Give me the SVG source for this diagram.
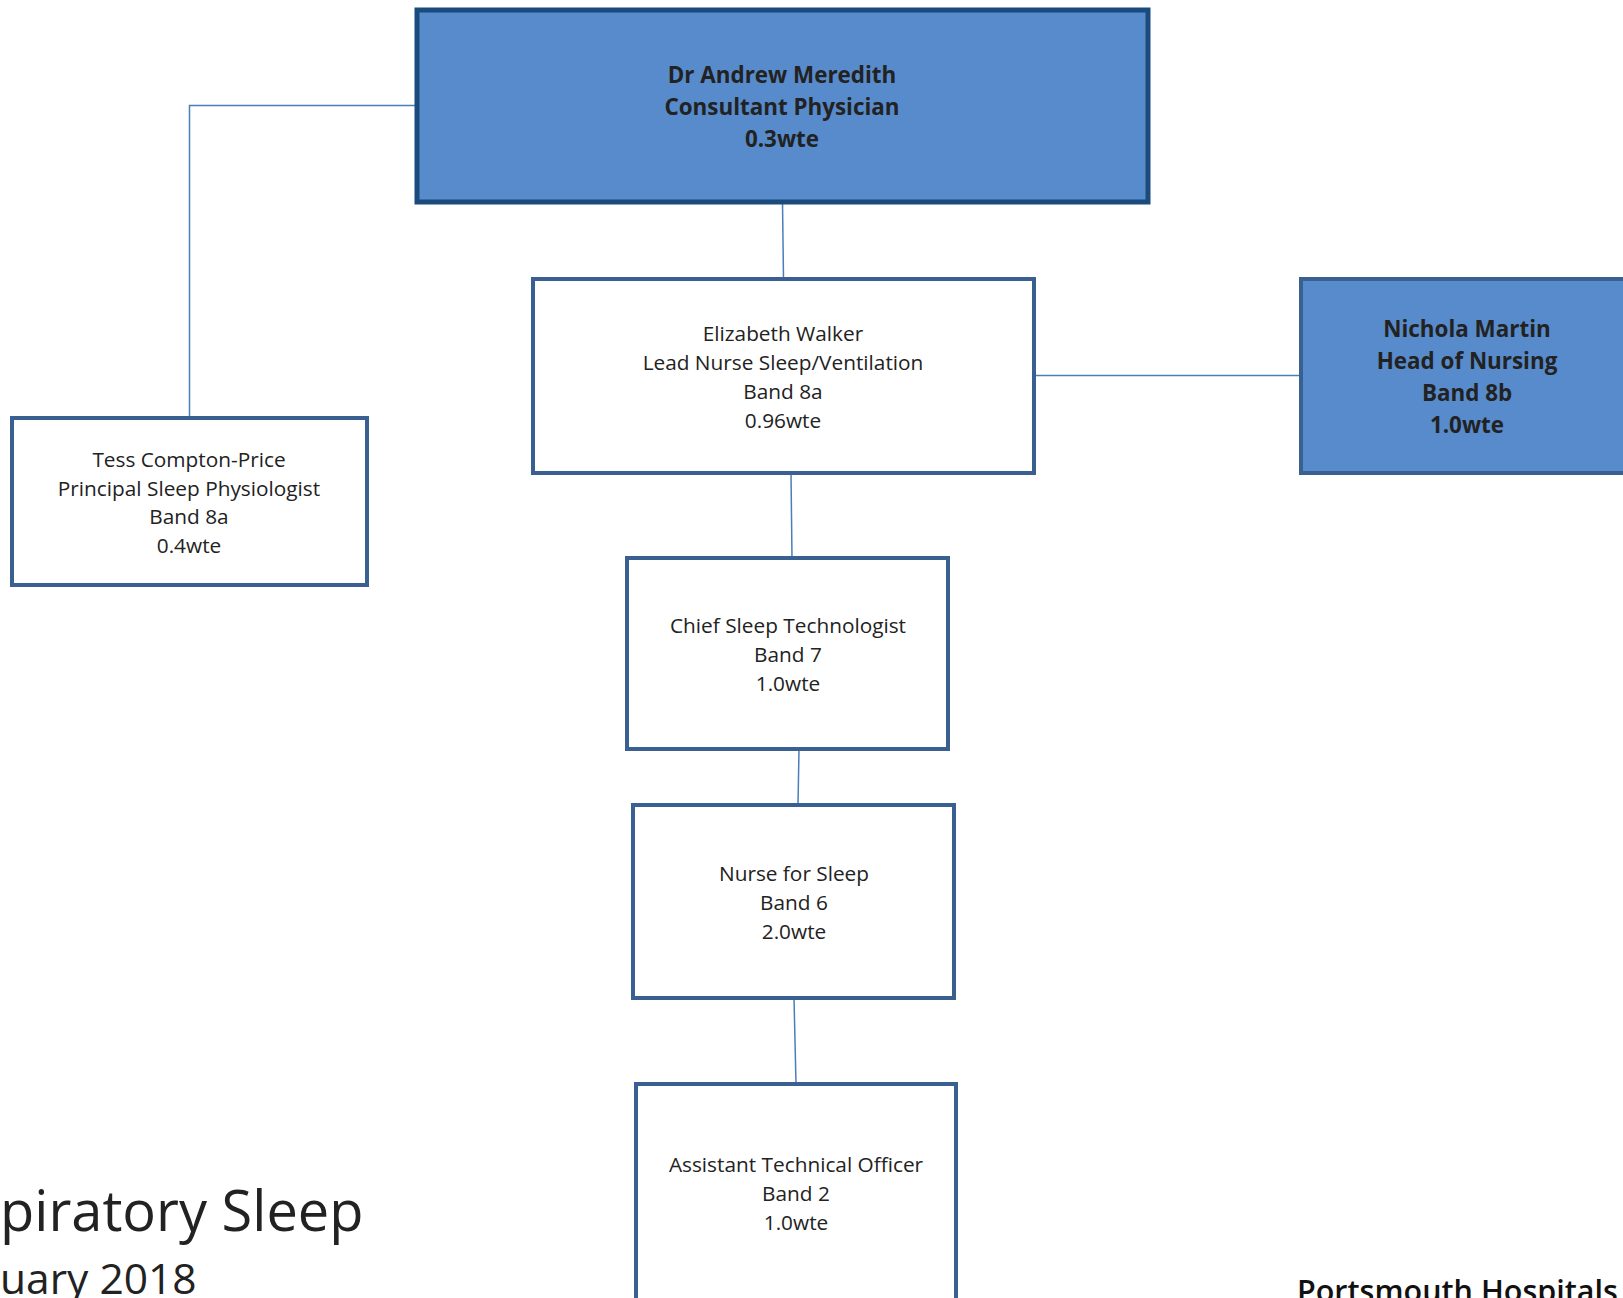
<svg xmlns="http://www.w3.org/2000/svg" width="1623" height="1298" viewBox="0 0 1623 1298">
<style>
.box{fill:#ffffff;stroke:#3A6091;stroke-width:4}
.fill{fill:#578BCB;stroke:#3A6091;stroke-width:4}
.top{fill:#578BCB;stroke:#1B4A7C;stroke-width:5}
.t{font-family:"Open Sans","Liberation Sans",sans-serif;font-size:20.8px;fill:#222;text-anchor:middle}
.b{font-family:"Open Sans","Liberation Sans",sans-serif;font-size:22.4px;font-weight:bold;fill:#222;text-anchor:middle}
.c{fill:none;stroke:#4A7EBB;stroke-width:1.5}
.big{font-family:"Open Sans","Liberation Sans",sans-serif;fill:#222}
</style>
<rect width="1623" height="1298" fill="#ffffff"/>
<g id="connectors">
<polyline class="c" points="417,105.5 189.5,105.5 189.5,418"/>
<line class="c" x1="782.5" y1="202" x2="783.5" y2="279"/>
<line class="c" x1="1034" y1="375.5" x2="1301" y2="375.5"/>
<line class="c" x1="791" y1="473" x2="792" y2="558"/>
<line class="c" x1="799" y1="749" x2="798" y2="805"/>
<line class="c" x1="794" y1="998" x2="796" y2="1084"/>
</g>
<g id="node-meredith">
<rect class="top" x="417" y="10" width="731" height="192"/>
<text class="b" x="782" y="82.5">Dr Andrew Meredith</text>
<text class="b" x="782" y="114.5">Consultant Physician</text>
<text class="b" x="782" y="146.5">0.3wte</text>
</g>
<g id="node-walker">
<rect class="box" x="533" y="279" width="501" height="194"/>
<text class="t" x="783" y="340.5">Elizabeth Walker</text>
<text class="t" x="783" y="369.5">Lead Nurse Sleep/Ventilation</text>
<text class="t" x="783" y="398.5">Band 8a</text>
<text class="t" x="783" y="427.5">0.96wte</text>
</g>
<g id="node-martin">
<rect class="fill" x="1301" y="279" width="330" height="194"/>
<text class="b" x="1467" y="336.5">Nichola Martin</text>
<text class="b" x="1467" y="368.5">Head of Nursing</text>
<text class="b" x="1467" y="400.5">Band 8b</text>
<text class="b" x="1467" y="432.5">1.0wte</text>
</g>
<g id="node-compton">
<rect class="box" x="12" y="418" width="355" height="167"/>
<text class="t" x="189" y="466.5">Tess Compton-Price</text>
<text class="t" x="189" y="495.5">Principal Sleep Physiologist</text>
<text class="t" x="189" y="523.5">Band 8a</text>
<text class="t" x="189" y="552.5">0.4wte</text>
</g>
<g id="node-chief">
<rect class="box" x="627" y="558" width="321" height="191"/>
<text class="t" x="788" y="632.5">Chief Sleep Technologist</text>
<text class="t" x="788" y="661.5">Band 7</text>
<text class="t" x="788" y="690.5">1.0wte</text>
</g>
<g id="node-nurse">
<rect class="box" x="633" y="805" width="321" height="193"/>
<text class="t" x="794" y="880.5">Nurse for Sleep</text>
<text class="t" x="794" y="909.5">Band 6</text>
<text class="t" x="794" y="938.5">2.0wte</text>
</g>
<g id="node-assistant">
<rect class="box" x="636" y="1084" width="320" height="230"/>
<text class="t" x="796" y="1171.5">Assistant Technical Officer</text>
<text class="t" x="796" y="1200.5">Band 2</text>
<text class="t" x="796" y="1229.5">1.0wte</text>
</g>
<text class="big" x="0" y="1231" font-size="56">piratory Sleep</text>
<text class="big" x="0" y="1294" font-size="42.5">uary 2018</text>
<text x="1297" y="1302" font-family="'Open Sans','Liberation Sans',sans-serif" font-size="30.5" font-weight="600" fill="#111">Portsmouth Hospitals</text>
</svg>
